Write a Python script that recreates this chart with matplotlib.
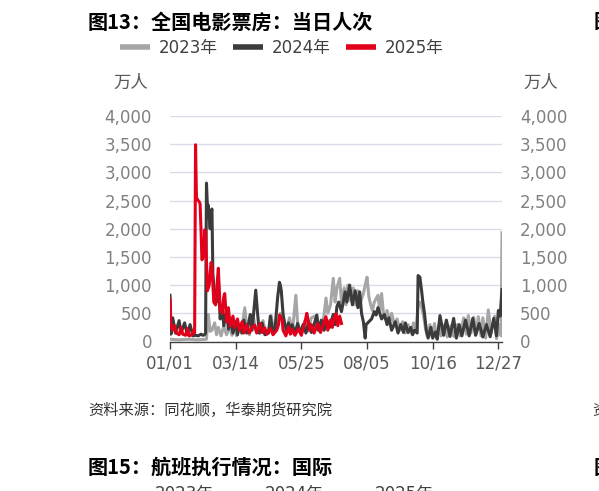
import matplotlib
matplotlib.use('Agg')
import matplotlib.pyplot as plt
from matplotlib.lines import Line2D
from matplotlib.ticker import FuncFormatter

plt.rcParams['font.family'] = ['DejaVu Sans', 'Noto Sans CJK SC']
CJK = ['Noto Sans CJK SC', 'DejaVu Sans']

# ---------------- data (day of year, 万人) ----------------
series_names = ['2023年', '2024年', '2025年']
x_tick_days = [0, 72, 144, 216, 288, 360]
x_tick_labels = ['01/01', '03/14', '05/25', '08/05', '10/16', '12/27']
y_ticks = [0, 500, 1000, 1500, 2000, 2500, 3000, 3500, 4000]

days_2023 = [0, 10, 20, 30, 40, 41, 42, 44, 46, 49,
             51, 53, 56, 59, 62, 65, 68, 71, 73, 76,
             78, 82, 84, 87, 91, 94, 98, 102, 105, 108,
             111, 114, 116, 119, 121, 124, 127, 131, 134, 138,
             140, 143, 148, 151, 155, 159, 162, 165, 168, 171,
             173, 176, 179, 181, 183, 186, 188, 191, 193, 195,
             198, 201, 203, 206, 209, 212, 214, 216, 218, 220,
             222, 224, 228, 230, 232, 234, 236, 238, 241, 243,
             246, 249, 252, 255, 258, 261, 264, 267, 270, 272,
             274, 276, 278, 280, 282, 285, 287, 290, 292, 295,
             297, 301, 304, 308, 311, 315, 318, 322, 325, 327,
             330, 333, 336, 338, 341, 343, 346, 349, 352, 356,
             358, 361, 363, 364]
users_2023 = [40, 30, 40, 30, 40, 300, 480, 180, 200, 330,
              120, 250, 100, 280, 120, 250, 110, 260, 100, 280,
              150, 600, 250, 120, 480, 200, 150, 370, 130, 200,
              460, 150, 250, 370, 500, 420, 150, 420, 150, 820,
              300, 150, 370, 180, 420, 450, 200, 180, 350, 770,
              500, 650, 1120, 700, 950, 1120, 700, 950, 650, 1000,
              720, 950, 650, 900, 700, 850, 1000, 1140, 800, 650,
              550, 700, 820, 550, 850, 500, 400, 550, 350, 500,
              300, 400, 200, 350, 150, 300, 150, 330, 200, 650,
              700, 600, 450, 250, 100, 300, 100, 320, 80, 280,
              100, 300, 80, 280, 90, 300, 100, 420, 130, 460,
              150, 430, 130, 440, 100, 420, 60, 560, 150, 450,
              50, 300, 100, 1930]

days_2024 = [0, 1, 3, 6, 10, 12, 16, 19, 22, 25,
             28, 31, 34, 36, 38, 39, 40, 41, 42, 43,
             44, 45, 46, 47, 49, 51, 53, 55, 57, 59,
             62, 64, 66, 69, 72, 74, 76, 79, 81, 84,
             88, 90, 94, 96, 98, 101, 104, 108, 110, 113,
             115, 118, 120, 121, 122, 124, 126, 128, 130, 132,
             134, 137, 140, 143, 146, 149, 152, 155, 158, 161,
             163, 166, 169, 172, 175, 179, 181, 183, 185, 188,
             192, 194, 197, 200, 203, 206, 208, 210, 212, 214,
             215, 221, 224, 226, 228, 232, 235, 238, 240, 243,
             247, 250, 253, 256, 258, 261, 264, 266, 268, 271,
             272, 274, 276, 277, 279, 281, 283, 286, 288, 291,
             293, 296, 300, 303, 307, 311, 314, 317, 320, 324,
             328, 332, 335, 339, 343, 347, 351, 355, 358, 360,
             362, 364]
users_2024 = [820, 130, 420, 150, 370, 150, 330, 120, 300, 100,
              110, 100, 130, 110, 120, 150, 2810, 2400, 2420, 2200,
              2000, 2300, 2350, 1200, 800, 700, 1100, 400, 620, 280,
              560, 220, 400, 150, 350, 120, 300, 150, 380, 150,
              480, 200, 910, 500, 150, 330, 120, 150, 450, 150,
              200, 780, 1050, 1000, 900, 480, 300, 200, 330, 150,
              300, 150, 320, 150, 300, 150, 350, 160, 300, 470,
              200, 380, 200, 380, 250, 480, 300, 620, 700, 530,
              880, 700, 1000, 650, 900, 600, 880, 500, 350, 60,
              300, 400, 530, 470, 600, 400, 480, 300, 420, 200,
              350, 150, 300, 160, 330, 160, 250, 120, 200, 150,
              1170, 1140, 880, 730, 500, 200, 60, 250, 60, 170,
              40, 460, 110, 380, 90, 410, 60, 300, 100, 380,
              100, 410, 110, 320, 80, 300, 85, 410, 100, 550,
              450, 920]

days_2025 = [0, 1, 3, 5, 7, 10, 12, 14, 17, 19,
             21, 24, 26, 27, 28, 29, 30, 32, 33, 34,
             35, 37, 38, 39, 41, 43, 45, 46, 48, 50,
             52, 53, 55, 57, 59, 60, 62, 64, 66, 69,
             71, 74, 76, 79, 81, 84, 87, 90, 93, 95,
             99, 101, 104, 106, 110, 113, 117, 119, 120, 121,
             123, 124, 127, 130, 132, 134, 137, 141, 144, 148,
             150, 151, 153, 155, 158, 162, 165, 168, 171, 173,
             176, 178, 180, 182, 184, 186, 188]
users_2025 = [750, 300, 200, 280, 150, 120, 250, 130, 110, 230,
              100, 120, 200, 150, 3490, 2560, 2520, 2480, 2440, 1980,
              1450, 1500, 1980, 1950, 900, 1000, 1400, 1350, 700, 650,
              1100, 1300, 550, 500, 800, 850, 350, 600, 270, 450,
              250, 400, 200, 350, 150, 300, 150, 250, 290, 150,
              320, 160, 240, 130, 230, 120, 200, 300, 470, 440,
              380, 200, 100, 260, 130, 220, 110, 230, 110, 350,
              500, 420, 200, 300, 150, 320, 160, 300, 440, 200,
              380, 250, 420, 490, 280, 450, 320]

assert len(days_2023) == len(users_2023)
assert len(days_2024) == len(users_2024)
assert len(days_2025) == len(users_2025)

colors = ['#A6A6A6', '#3B3B3B', '#E2001A']

# ---------------- figure ----------------
W, H = 599, 491
fig = plt.figure(figsize=(W / 100, H / 100), dpi=100)
fig.patch.set_facecolor('white')

left, right, bottom, top = 170, 502, 341.5, 116
ax = fig.add_axes([left / W, 1 - bottom / H, (right - left) / W, (bottom - top) / H])

ax.plot(days_2023, users_2023, color=colors[0], lw=2.2, zorder=2, solid_joinstyle='round')
ax.plot(days_2024, users_2024, color=colors[1], lw=2.2, zorder=3, solid_joinstyle='round')
ax.plot(days_2025, users_2025, color=colors[2], lw=2.2, zorder=4, solid_joinstyle='round')

ax.set_xlim(0, 364)
ax.set_ylim(0, 4000)
ax.set_yticks(y_ticks)
ax.yaxis.set_major_formatter(FuncFormatter(lambda v, p: f'{int(v):,}'))
ax.tick_params(axis='y', length=0, pad=13, labelsize=12, labelcolor='#808080',
               left=True, right=True, labelleft=True, labelright=True)
ax.set_xticks(x_tick_days)
ax.set_xticklabels(x_tick_labels)
ax.tick_params(axis='x', length=5, width=1, color='#404040', pad=4,
               labelsize=12, labelcolor='#595959')
ax.grid(axis='y', color='#D9DCE8', lw=1.0, zorder=0)
ax.set_axisbelow(True)
for s in ['top', 'left', 'right']:
    ax.spines[s].set_visible(False)
ax.spines['bottom'].set_color('#404040')
ax.spines['bottom'].set_linewidth(1.0)
ax.spines['bottom'].set_zorder(5)

# unit labels
fig.text(113 / W, 1 - 83 / H, '万人', ha='left', va='center', fontsize=12.5,
         color='#595959', family=CJK)
fig.text(523 / W, 1 - 83 / H, '万人', ha='left', va='center', fontsize=12.5,
         color='#595959', family=CJK)

# legend
handles = [Line2D([], [], color=c, lw=4, solid_capstyle='butt') for c in colors]
fig.legend(handles, series_names, loc='center left',
           bbox_to_anchor=(120 / W, 1 - 48 / H), ncol=3, frameon=False,
           borderpad=0, borderaxespad=0, handlelength=1.8, handletextpad=0.5,
           columnspacing=0.95, fontsize=12, labelcolor='#404040')

# titles and notes
fig.text(88 / W, 1 - 22 / H, '图13：全国电影票房：当日人次', ha='left', va='center',
         fontsize=14.5, weight='bold', color='black', family=CJK)
fig.text(88 / W, 1 - 410 / H, '资料来源：同花顺，华泰期货研究院', ha='left', va='center',
         fontsize=11, style='italic', color='#333333', family=CJK)
fig.text(88 / W, 1 - 467 / H, '图15：航班执行情况：国际', ha='left', va='center',
         fontsize=14.5, weight='bold', color='black', family=CJK)

# partially visible elements from neighbouring charts (cut at the edge as in the reference)
fig.text(594 / W, 1 - 22 / H, '图14', ha='left', va='center', fontsize=14.5,
         weight='bold', color='black', family=CJK)
fig.text(592 / W, 1 - 410 / H, '资料', ha='left', va='center', fontsize=11,
         color='#333333', family=CJK)
fig.text(594 / W, 1 - 467 / H, '图16', ha='left', va='center', fontsize=14.5,
         weight='bold', color='black', family=CJK)
for xx, lab in zip([155, 265, 375], series_names):
    fig.text(xx / W, 1 - 485 / H, lab, ha='left', va='top', fontsize=12,
             color='#404040')

fig.savefig('out.png', dpi=100, facecolor='white')
